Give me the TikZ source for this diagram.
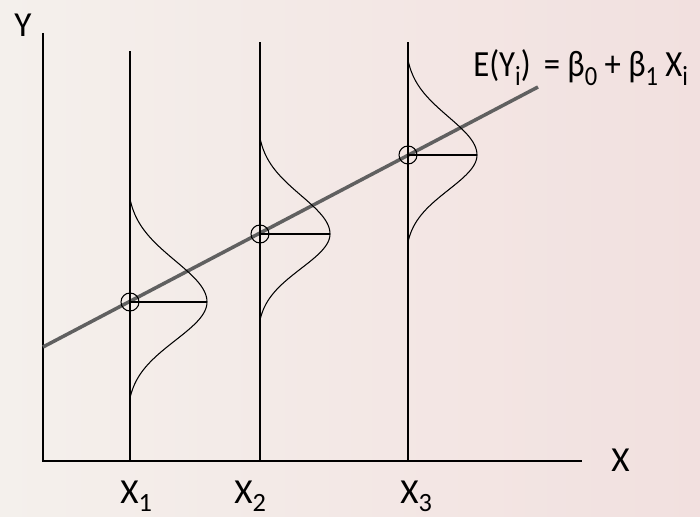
\documentclass[tikz,border=0pt]{standalone}
\usepackage{fontspec}
\setmainfont{Carlito}
\usepackage{xcolor}
\usepackage{tikz}
\usetikzlibrary{positioning}

\definecolor{bgleft}{HTML}{F4F0EC}
\definecolor{bgright}{HTML}{F2E0DF}
\definecolor{regline}{HTML}{606060}
\newcommand\lowsub[1]{\raisebox{-4.5pt}{\fontsize{15}{15}\selectfont #1}}

\begin{document}
\begin{tikzpicture}[
    axis/.style={line width=1.1pt, draw=black},
    level/.style={line width=0.75pt, draw=black},
    bell/.style={line width=0.6pt, draw=black},
    reg/.style={line width=2pt, draw=regline},
    mean/.style={circle, draw=black, line width=0.6pt, minimum size=0.36cm, inner sep=0pt},
    lbl/.style={font=\fontsize{20}{24}\selectfont, inner sep=0pt, anchor=base west}
]
% background
\useasboundingbox (0,0) rectangle (14,10.34);
\shade[left color=bgleft, right color=bgright] (0,0) rectangle (14,10.34);

% axes
\coordinate (O) at (0.86,1.12);
\coordinate (ytop) at (0.86,9.68);
\coordinate (xend) at (11.64,1.12);
\draw[axis] (ytop) -- (O) -- (xend);
\node[lbl] (ylabel) at (0.28,9.60) {Y};
\node[lbl] (xlabel) at (12.22,0.90) {X};

% regression line
\coordinate (r0) at (0.86,3.40);
\coordinate (r1) at (10.76,8.60);
\draw[reg] (r0) -- (r1);
\node[lbl] (eq) at (9.46,8.80) {\scalebox{0.93}[1.05]{E(Y\lowsub{i})\hspace{0.4em}= β\lowsub{0} + β\lowsub{1} X\lowsub{i}}};

% levels with their distributions
\foreach \xi/\top/\yc/\amp/\up/\dn/\lx [count=\i] in {
    2.60/9.32/4.30/1.54/2.06/1.92/2.40,
    5.20/9.50/5.66/1.40/1.92/1.72/4.68,
    8.16/9.50/7.24/1.38/1.90/1.74/8.00}
{
  \coordinate (b\i) at (\xi,1.12);
  \coordinate (t\i) at (\xi,\top);
  \coordinate (p\i) at (\xi+\amp,\yc);
  \draw[level] (b\i) -- (t\i);
  \draw[bell] plot[domain=-1:1, samples=81, smooth, variable=\t]
    ({\xi + \amp*(exp(-3.125*\t*\t)-0.0439)/0.9561}, {\yc + \t*(\t>0 ? \up : \dn)});
  \node[mean] (m\i) at (\xi,\yc) {};
  \draw[level] (m\i.center) -- (p\i);
  \node[lbl] (x\i) at (\lx,0.26) {X\lowsub{\i}};
}
\end{tikzpicture}
\end{document}
